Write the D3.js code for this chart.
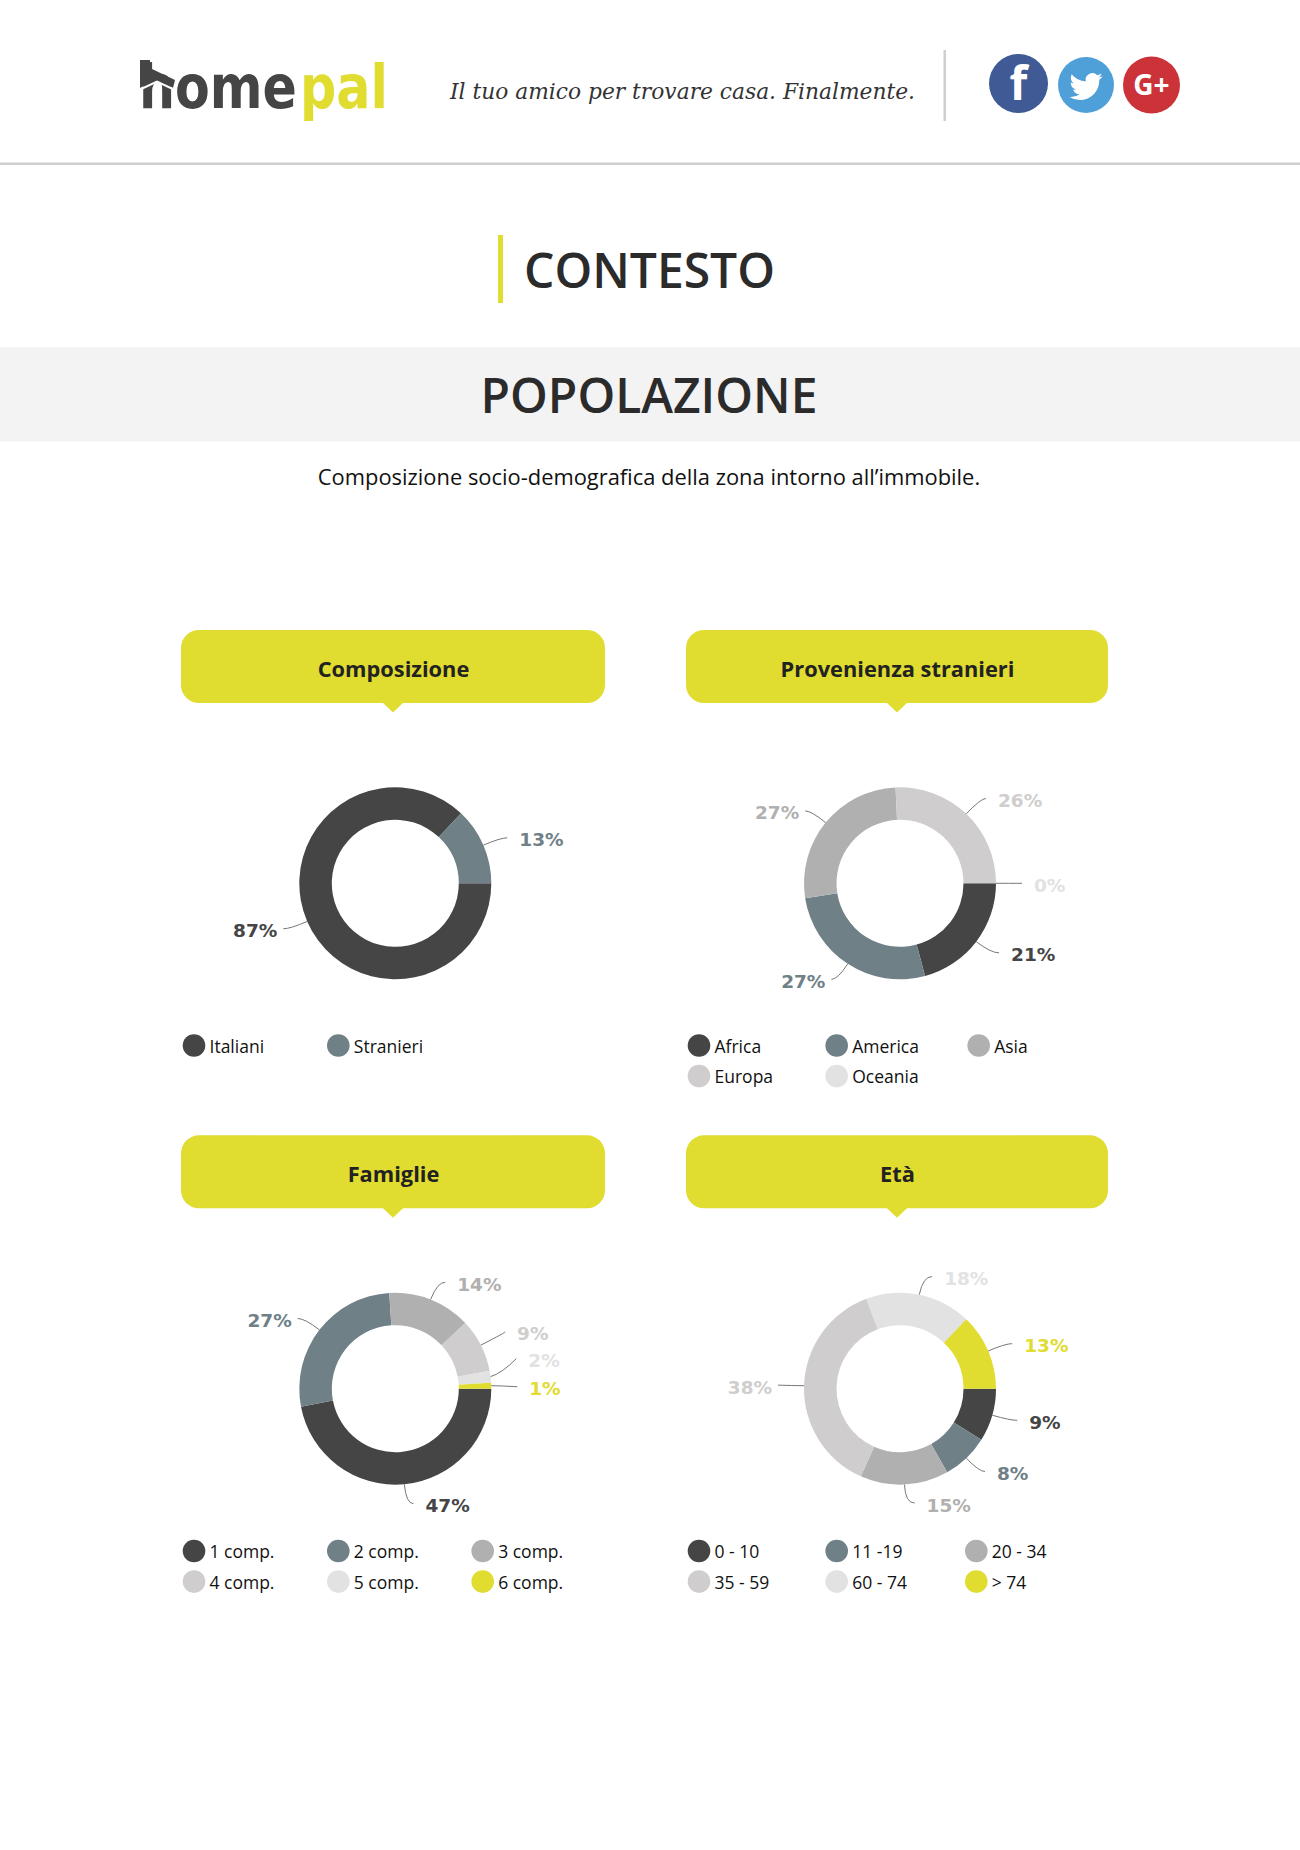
<!DOCTYPE html>
<html><head><meta charset="utf-8">
<script src="https://cdn.jsdelivr.net/npm/d3@7"></script>
<style>html,body{margin:0;padding:0;background:#fff}svg{display:block}</style>
</head><body><svg id="c" width="1300" height="1850"></svg>
<script>
const palette = ["#454545","#6f8087","#b0b0b0","#cfcdcd","#e2e2e2","#e0dc30"];

const compCats = ["Italiani","Stranieri"];
const compVals = [87,13];
const provCats = ["Africa","America","Asia","Europa","Oceania"];
const provVals = [21,27,27,26,0];
const famCats = ["1 comp.","2 comp.","3 comp.","4 comp.","5 comp.","6 comp."];
const famVals = [47,27,14,9,2,1];
const etaCats = ["0 - 10","11 -19","20 - 34","35 - 59","60 - 74","> 74"];
const etaVals = [9,8,15,38,18,13];

const panels = [
 {title:"Composizione",cats:compCats,vals:compVals,pill:[181,605],top:630,cx:395.3,cy:883.3,leg:[194,338.3,482.7],legY:1045.5,nudge:{}},
 {title:"Provenienza stranieri",cats:provCats,vals:provVals,pill:[686,1108],top:630,cx:900,cy:883.3,leg:[699,836.7,978.7],legY:1045.5,nudge:{}},
 {title:"Famiglie",cats:famCats,vals:famVals,pill:[181,605],top:1135.3,cx:395.3,cy:1388.7,leg:[194,338.3,482.7],legY:1551,nudge:{}},
 {title:"Età",cats:etaCats,vals:etaVals,pill:[686,1108],top:1135.3,cx:900,cy:1388.7,leg:[699,836.7,976.3],legY:1551,nudge:{}}
];
// label shifts where the reference moved a label away from its neighbour
panels[1].nudge = {0:[2,0],3:[1,-2]};
panels[2].nudge = {0:[-2,1],1:[-1,0],3:[1,-5],4:[0,-15.7],5:[0,1.6]};

const svg = d3.select("#c");
const OS = "'Open Sans',sans-serif";
const R = 96, r0 = 63.5, rLab = 122;

/* header */
function logoPart(txt,x,w,fill){
  const t=svg.append("text").attr("font-family","'DejaVu Sans',sans-serif").attr("font-weight",700).attr("font-size",60).attr("fill",fill).text(txt);
  const natural=t.node().getComputedTextLength();
  t.attr("transform",`translate(${x},108) scale(${w/natural},1)`);
}
logoPart("home",139,158,"#454545");
logoPart("pal",300,88,"#e0dc30");
svg.append("path").attr("d","M140,60L150,60L150,68L175,80L173,88L157,79L140,88Z").attr("fill","#454545");
svg.append("path").attr("d","M138,90.5L157,81.5L176,90.5").attr("fill","none").attr("stroke","#fff").attr("stroke-width",2);
svg.append("text").attr("x",450).attr("y",98.5).attr("font-family","'DejaVu Serif',serif").attr("font-style","italic").attr("font-size",22).attr("fill","#333").attr("textLength",465).attr("lengthAdjust","spacingAndGlyphs").text("Il tuo amico per trovare casa. Finalmente.");
svg.append("rect").attr("x",943.5).attr("y",50).attr("width",2.5).attr("height",71).attr("fill","#cfcfcf");
const soc=[[1018.5,83.5,29.5,"#3f5a94"],[1086,85,28,"#4f9fd8"],[1151.5,85,28.5,"#cc3338"]];
soc.forEach(s=>svg.append("circle").attr("cx",s[0]).attr("cy",s[1]).attr("r",s[2]).attr("fill",s[3]));
svg.append("text").attr("x",1018.5).attr("y",100).attr("text-anchor","middle").attr("fill","#fff").attr("font-family",OS).attr("font-weight",700).attr("font-size",46).text("f");
svg.append("path").attr("transform","translate(1069.5,70) scale(1.38)").attr("fill","#fff")
  .attr("d","M23.953 4.57a10 10 0 01-2.825.775 4.958 4.958 0 002.163-2.723c-.951.555-2.005.959-3.127 1.184a4.92 4.92 0 00-8.384 4.482C7.69 8.095 4.067 6.13 1.64 3.162a4.822 4.822 0 00-.666 2.475c0 1.71.87 3.213 2.188 4.096a4.904 4.904 0 01-2.228-.616v.06a4.923 4.923 0 003.946 4.827 4.996 4.996 0 01-2.212.085 4.936 4.936 0 004.604 3.417 9.867 9.867 0 01-6.102 2.105c-.39 0-.779-.023-1.17-.067a13.995 13.995 0 007.557 2.209c9.053 0 13.998-7.496 13.998-13.985 0-.21 0-.42-.015-.63A9.935 9.935 0 0024 4.59z");
svg.append("text").attr("x",1151.5).attr("y",95).attr("text-anchor","middle").attr("fill","#fff").attr("font-family",OS).attr("font-weight",700).attr("font-size",28).text("G+");
svg.append("rect").attr("x",0).attr("y",162.5).attr("width",1300).attr("height",2.5).attr("fill","#cfcfcf");
svg.append("rect").attr("x",498).attr("y",235).attr("width",5).attr("height",68).attr("fill","#e0dc30");
svg.append("text").attr("x",524).attr("y",287.5).attr("font-family",OS).attr("font-weight",600).attr("font-size",48).attr("fill","#2b2b2b").text("CONTESTO");
svg.append("rect").attr("x",0).attr("y",347).attr("width",1300).attr("height",94.5).attr("fill","#f3f3f3");
svg.append("text").attr("x",649).attr("y",412.5).attr("text-anchor","middle").attr("font-family",OS).attr("font-weight",600).attr("font-size",48).attr("fill","#2b2b2b").text("POPOLAZIONE");
svg.append("text").attr("x",649).attr("y",485).attr("text-anchor","middle").attr("font-family",OS).attr("font-size",21.9).attr("fill","#111").text("Composizione socio-demografica della zona intorno all’immobile.");

/* panels */
panels.forEach(p=>{
  const g = svg.append("g");
  const [x0,x1]=p.pill, mid=(x0+x1)/2;
  g.append("rect").attr("x",x0).attr("y",p.top).attr("width",x1-x0).attr("height",73).attr("rx",18).attr("fill","#e0dc30");
  g.append("path").attr("d",`M${mid-11},${p.top+72}L${mid},${p.top+82.5}L${mid+11},${p.top+72}Z`).attr("fill","#e0dc30");
  g.append("text").attr("x",mid+0.5).attr("y",p.top+46.5).attr("text-anchor","middle").attr("font-family",OS).attr("font-weight",700).attr("font-size",21.8).attr("fill","#222").text(p.title);

  const color = d3.scaleOrdinal().domain(p.cats).range(palette);
  const pie = d3.pie().sort(null).startAngle(Math.PI/2).endAngle(Math.PI*2.5);
  const arcs = pie(p.vals);
  const arc = d3.arc().innerRadius(r0).outerRadius(R);
  const d = g.append("g").attr("transform",`translate(${p.cx},${p.cy})`);
  d.selectAll("path.s").data(arcs).join("path").attr("class","s").attr("d",arc).attr("fill",(a,i)=>color(p.cats[i]));
  arcs.forEach((a,i)=>{
    const m=(a.startAngle+a.endAngle)/2, ux=Math.sin(m), uy=-Math.cos(m);
    const n=p.nudge[i]||[0,0];
    const side=ux>=0?1:-1;
    const sx=ux*R, sy=uy*R;
    const ex=ux*rLab+side*9*Math.pow(uy,8)+n[0], ey=uy*(rLab-7.5)+n[1];
    let cxx,cyy;
    if(Math.abs(uy)>0.15 && (ey-sy)/uy>0){ cyy=ey; cxx=sx+(ey-sy)/uy*ux; }
    else { cxx=sx+(ex-sx)*0.45; cyy=sy+(ey-sy)*0.2; }
    d.append("path").attr("d",`M${sx},${sy}Q${cxx},${cyy} ${ex},${ey}`).attr("fill","none").attr("stroke","#777").attr("stroke-width",1);
    d.append("text").attr("x",ex+(side>0?12:-6)).attr("y",ey+8.5).attr("text-anchor",side>0?"start":"end")
     .attr("font-family","'DejaVu Sans',sans-serif").attr("font-weight",700).attr("font-size",18.5).attr("fill",color(p.cats[i])).text(p.vals[i]+"%");
  });
  p.cats.forEach((c,i)=>{
    const col=i%3,row=Math.floor(i/3),x=p.leg[col],y=p.legY+row*30.6;
    g.append("circle").attr("cx",x).attr("cy",y).attr("r",11.3).attr("fill",color(c));
    g.append("text").attr("x",x+15.5).attr("y",y+7).attr("font-family",OS).attr("font-size",17.5).attr("fill","#111").text(c);
  });
});
</script></body></html>
